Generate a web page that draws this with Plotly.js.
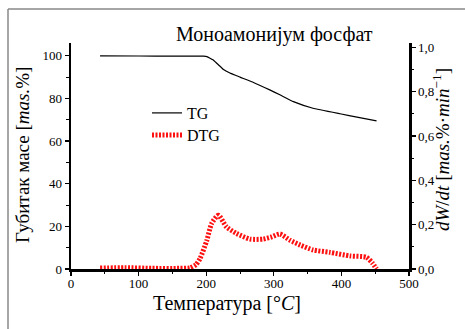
<!DOCTYPE html>
<html>
<head>
<meta charset="utf-8">
<script src="https://cdn.plot.ly/plotly-3.0.1.min.js"></script>
<style>html,body{margin:0;padding:0;background:#fff;}#chart{width:465px;height:329px;}</style>
</head>
<body>
<div id="chart"></div>
<script>
// TG curve (mass %, left axis)
const tgTemp = [43, 100, 150, 196, 201, 205, 210, 214, 218, 225, 235, 250, 270, 294, 309, 329, 358, 398, 425, 452];
const tgMass = [100, 99.9, 99.8, 99.8, 99.6, 99.0, 98.1, 97.0, 95.8, 93.7, 91.9, 90.0, 87.5, 84.0, 81.7, 78.5, 75.4, 72.8, 71.1, 69.5];

// DTG curve (right axis)
const dtgTemp = [43, 80, 120, 160, 176, 185, 191, 201, 208, 218, 230, 245, 265, 284, 297, 309, 324, 339, 358, 383, 413, 437, 446, 452];
const dtgVal  = [0.004, 0.006, 0.003, 0.003, 0.005, 0.02, 0.048, 0.13, 0.205, 0.243, 0.19, 0.16, 0.135, 0.135, 0.145, 0.158, 0.13, 0.108, 0.086, 0.075, 0.059, 0.053, 0.026, 0.0];

const leftTicks = [0, 20, 40, 60, 80, 100];
const rightTickVals = [0, 0.2, 0.4, 0.6, 0.8, 1.0];
const rightTickText = ["0,0", "0,2", "0,4", "0,6", "0,8", "1,0"];
const xTicks = [0, 100, 200, 300, 400, 500];

const titleText = "Моноамонијум фосфат";
const xTitle = "Температура [°<i>C</i>]";
const yTitle = "Губитак масе [<i>mas.</i>%]";
const y2Title = "<i>dW</i>/<i>dt</i> [<i>mas.</i>%·<i>min</i><sup>−1</sup>]";

const F = "Liberation Serif";

const traces = [
  {x: tgTemp, y: tgMass, name: "TG", type: "scatter", mode: "lines",
   line: {color: "#000", width: 1.2, shape: "spline", smoothing: 0.3}, yaxis: "y", legend: "legend"},
  {x: dtgTemp, y: dtgVal, name: "DTG", type: "scatter", mode: "lines",
   line: {color: "#ff1010", width: 5, dash: "2px,1.5px", shape: "spline", smoothing: 0.6}, yaxis: "y2", legend: "legend2"}
];

const axisCommon = {
  showgrid: false, zeroline: false, showline: true, linecolor: "#000", linewidth: 2.5,
  ticks: "outside", ticklen: 4, tickwidth: 1.2, tickcolor: "#000",
  tickfont: {family: F, size: 13, color: "#000"}
};

const legendCommon = {xanchor: "left", yanchor: "middle", bgcolor: "rgba(0,0,0,0)",
  font: {family: F, size: 16, color: "#000"}, itemwidth: 30, borderwidth: 0};

const layout = {
  width: 465, height: 329,
  margin: {l: 71, r: 56, t: 43, b: 60},
  paper_bgcolor: "#fff", plot_bgcolor: "#fff",
  showlegend: true,
  legend: Object.assign({}, legendCommon, {x: (147 - 71) / 338, y: (269 - 113) / 226}),
  legend2: Object.assign({}, legendCommon, {x: (147 - 71) / 338, y: (269 - 135) / 226}),
  xaxis: Object.assign({}, axisCommon, {range: [0, 500], tickvals: xTicks, ticklabelstandoff: -3,
          minor: {dtick: 50, ticks: "outside", ticklen: 2.5, tickwidth: 1, tickcolor: "#000"}}),
  yaxis: Object.assign({}, axisCommon, {range: [0, 106], tickvals: leftTicks,
          minor: {dtick: 10, ticks: "outside", ticklen: 2.5, tickwidth: 1, tickcolor: "#000"}}),
  yaxis2: Object.assign({}, axisCommon, {overlaying: "y", side: "right", range: [0, 1.02],
          tickvals: rightTickVals, ticktext: rightTickText,
          minor: {dtick: 0.1, ticks: "outside", ticklen: 2.5, tickwidth: 1, tickcolor: "#000"}}),
  annotations: [
    {text: titleText, xref: "paper", yref: "paper", x: (274 - 71) / 338, y: (269 - 35) / 226,
     xanchor: "center", yanchor: "middle", showarrow: false, font: {family: F, size: 20, color: "#000"}},
    {text: xTitle, xref: "paper", yref: "paper", x: (227 - 71) / 338, y: (269 - 303) / 226,
     xanchor: "center", yanchor: "middle", showarrow: false, font: {family: F, size: 20, color: "#000"}},
    {text: yTitle, xref: "paper", yref: "paper", x: (22 - 71) / 338, y: (269 - 155) / 226,
     xanchor: "center", yanchor: "middle", textangle: -90, showarrow: false, font: {family: F, size: 19, color: "#000"}},
    {text: y2Title, xref: "paper", yref: "paper", x: (441 - 71) / 338, y: (269 - 150) / 226,
     xanchor: "center", yanchor: "middle", textangle: -90, showarrow: false, font: {family: F, size: 19, color: "#000"}}
  ],
  shapes: [
    {type: "line", xref: "paper", yref: "paper", x0: (8 - 71) / 338, x1: (8 - 71) / 338, y0: (269 - 9) / 226, y1: (269 - 340) / 226,
     line: {color: "#888", width: 1.5}},
    {type: "line", xref: "paper", yref: "paper", x0: (8 - 71) / 338, x1: (470 - 71) / 338, y0: (269 - 9) / 226, y1: (269 - 9) / 226,
     line: {color: "#888", width: 1.5}}
  ]
};

Plotly.newPlot("chart", traces, layout, {displayModeBar: false, staticPlot: true});
</script>
</body>
</html>
